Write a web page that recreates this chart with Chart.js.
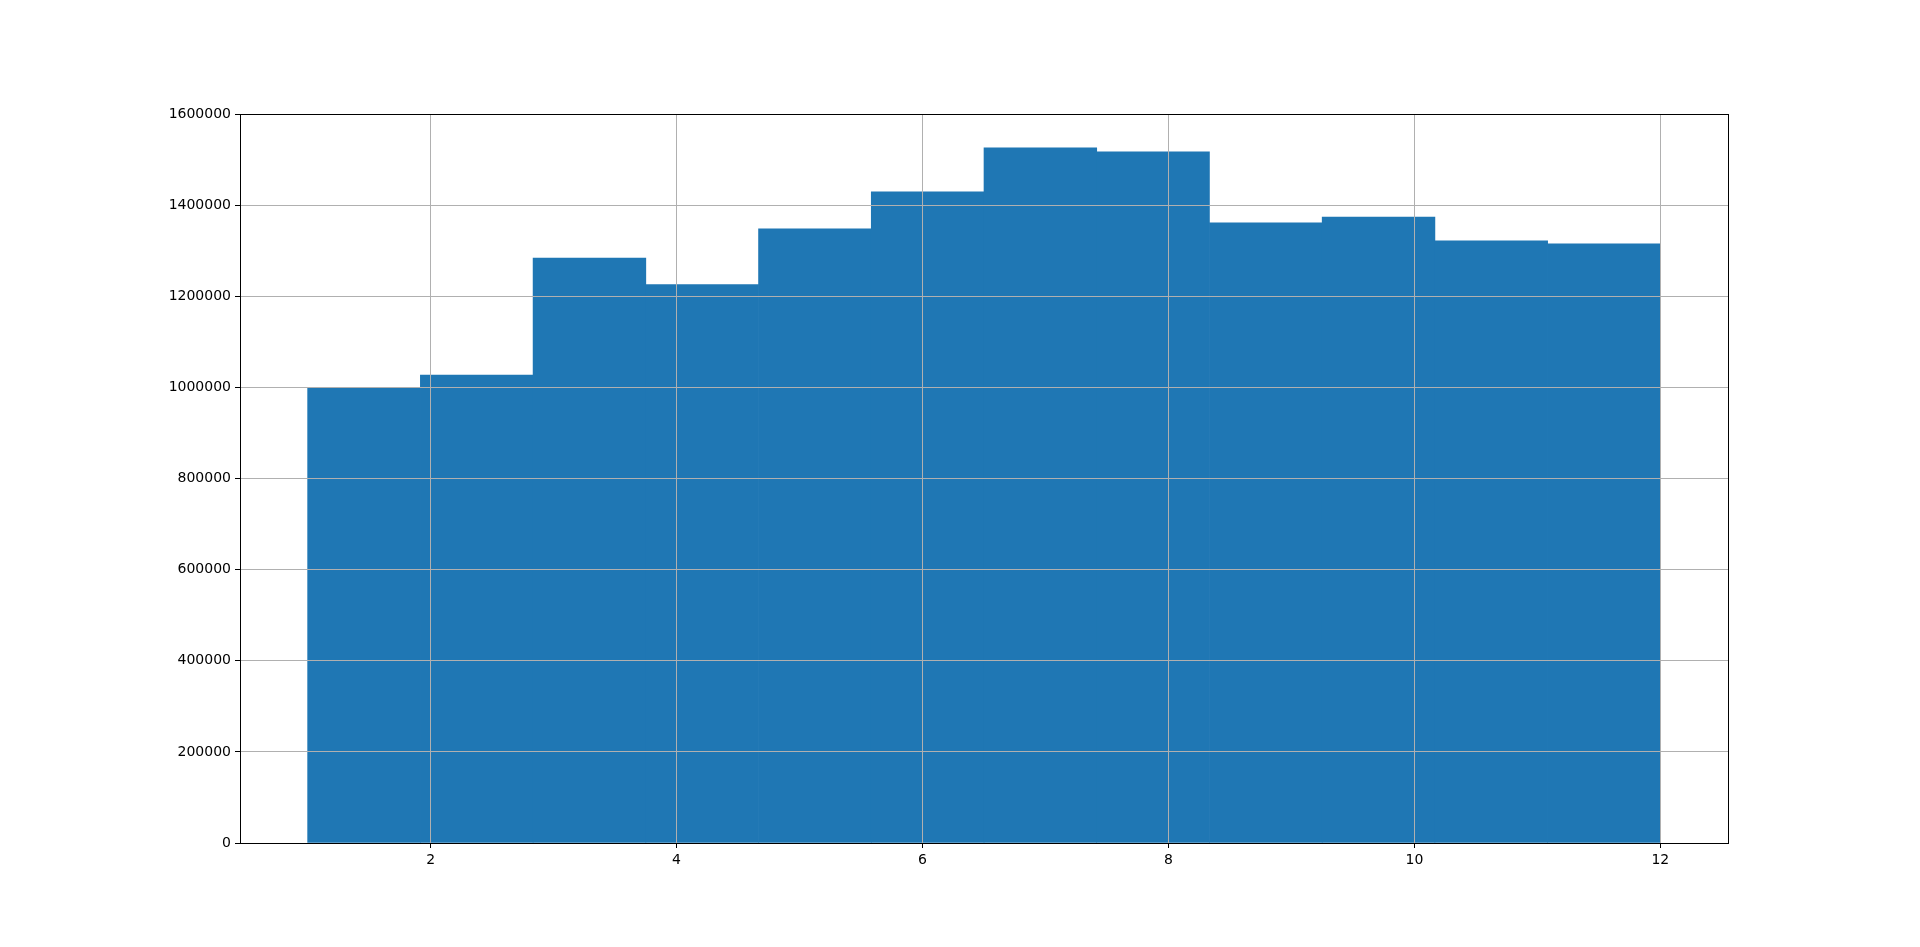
<!DOCTYPE html>
<html>
<head>
<meta charset="utf-8">
<script src="https://cdn.jsdelivr.net/npm/chart.js@4/dist/chart.umd.min.js"></script>
<style>
  body { margin: 0; background: #fff; }
  #wrap { width: 1920px; height: 947px; }
</style>
</head>
<body>
<div id="wrap"><canvas id="histChart"></canvas></div>
<script>
// histogram bin edges (12 bins between 1 and 12)
const binEdges = [1, 1.9167, 2.8333, 3.75, 4.6667, 5.5833, 6.5, 7.4167, 8.3333, 9.25, 10.1667, 11.0833, 12];
// bar heights
const counts = [998000, 1027000, 1284000, 1225500, 1348000, 1429000, 1526000, 1517000, 1361000, 1374000, 1321500, 1315000];
const xTicks = [2, 4, 6, 8, 10, 12];
const yTicks = [0, 200000, 400000, 600000, 800000, 1000000, 1200000, 1400000, 1600000];

const barData = counts.map((c, i) => ({ x: (binEdges[i] + binEdges[i + 1]) / 2, y: c }));

// matplotlib draws a box around the axes
const frame = {
  id: 'frame',
  afterDraw(chart) {
    const {ctx, chartArea: a} = chart;
    ctx.save();
    ctx.strokeStyle = '#000';
    ctx.lineWidth = 1;
    ctx.strokeRect(Math.round(a.left) + 0.5, Math.round(a.top) + 0.5, Math.round(a.right - a.left), Math.round(a.bottom - a.top));
    ctx.restore();
  }
};

const tickFont = { family: 'DejaVu Sans', size: 14 };

new Chart(document.getElementById('histChart').getContext('2d'), {
  type: 'bar',
  data: {
    datasets: [{
      data: barData,
      backgroundColor: '#1f77b4',
      borderWidth: 0,
      barPercentage: 1,
      categoryPercentage: 1
    }]
  },
  options: {
    responsive: true,
    maintainAspectRatio: false,
    animation: false,
    layout: { padding: { left: 0, top: 114, right: 192, bottom: 0 } },
    plugins: { legend: { display: false }, tooltip: { enabled: false } },
    scales: {
      x: {
        type: 'linear',
        offset: false,
        min: 0.45,
        max: 12.55,
        afterBuildTicks: (s) => { s.ticks = xTicks.map(v => ({ value: v })); },
        afterFit: (s) => { s.height = 104; },
        grid: { offset: false, color: '#b0b0b0', lineWidth: 1, z: 1, tickColor: '#000', tickLength: 5, drawTicks: true },
        border: { display: false },
        ticks: { color: '#000', font: tickFont, padding: 4, maxRotation: 0 }
      },
      y: {
        min: 0,
        max: 1600000,
        afterBuildTicks: (s) => { s.ticks = yTicks.map(v => ({ value: v })); },
        afterFit: (s) => { s.width = 240; },
        grid: { color: '#b0b0b0', lineWidth: 1, z: 1, tickColor: '#000', tickLength: 5, drawTicks: true },
        border: { display: false },
        ticks: { color: '#000', font: tickFont, padding: 4, callback: (v) => String(v) }
      }
    }
  },
  plugins: [frame]
});
</script>
</body>
</html>
